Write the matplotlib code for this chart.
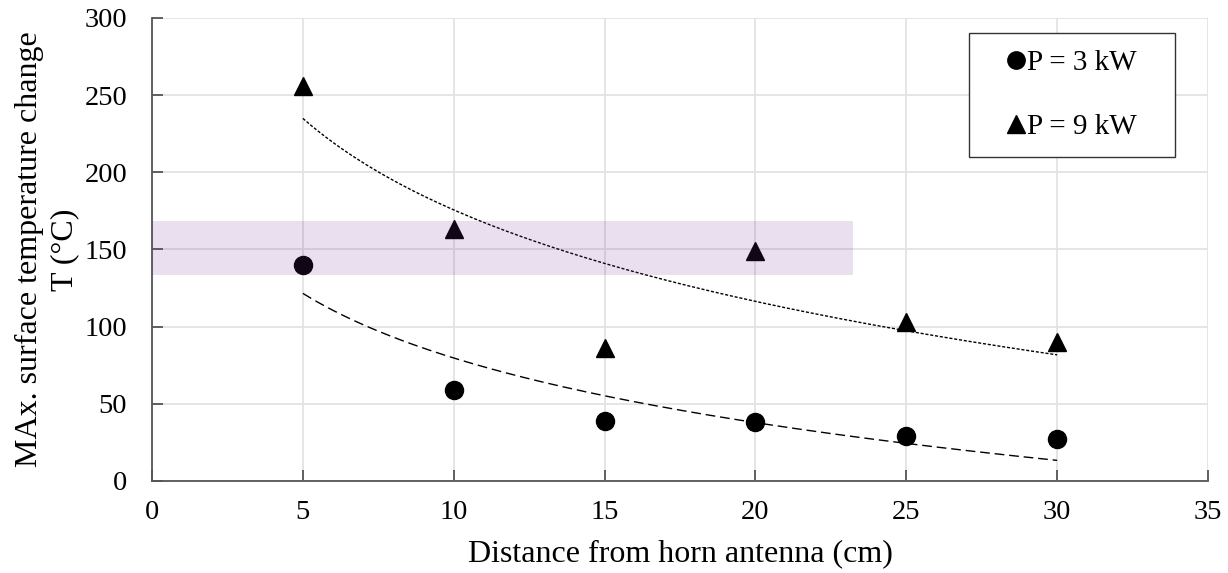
import numpy as np
import matplotlib
matplotlib.use("Agg")
import matplotlib.pyplot as plt
from matplotlib.lines import Line2D
from matplotlib.patches import Rectangle

plt.rcParams['font.family'] = ['Liberation Serif', 'DejaVu Serif']

# Measured maximum surface temperature change vs. distance
distance = [5, 10, 15, 20, 25, 30]
temp_3kw = [140, 59, 39, 38, 29, 27]
temp_9kw = [256, 163, 86, 149, 103, 90]

# Highlighted temperature range
band_x = [0, 23.24]
band_y = [133.7, 168.5]

fig = plt.figure(figsize=(12.28, 5.73), dpi=100)
ax = fig.add_axes([0.1238, 0.1606, 0.8599, 0.808])

ax.set_xlim(0, 35)
ax.set_ylim(0, 300)
ax.set_xticks(np.arange(0, 36, 5))
ax.set_yticks(np.arange(0, 301, 50))
ax.grid(True, color='#e3e3e3', linewidth=1.3)
ax.set_axisbelow(True)

for s in ['top', 'right']:
    ax.spines[s].set_visible(False)
for s in ['left', 'bottom']:
    ax.spines[s].set_color('#555555')
    ax.spines[s].set_linewidth(1.3)
ax.tick_params(direction='in', length=8, width=1.3, color='#555555',
               labelsize=20.5)
ax.tick_params(axis='x', pad=14)
ax.tick_params(axis='y', pad=18)

# Logarithmic trend lines fitted to each series
x = np.array(distance, dtype=float)
xf = np.linspace(5, 30, 200)
for vals, ls in [(temp_3kw, (0, (7, 3.5))), (temp_9kw, (0, (2.2, 1.3)))]:
    a, b = np.polyfit(np.log(x), np.array(vals, dtype=float), 1)
    ax.plot(xf, a * np.log(xf) + b, color='black', linewidth=1.0, linestyle=ls)

ax.plot(distance, temp_3kw, 'o', color='black', markersize=13, zorder=3)
ax.plot(distance, temp_9kw, '^', color='black', markersize=13.5, zorder=3)

ax.fill_between(band_x, band_y[0], band_y[1], color='#6c2a94', alpha=0.15,
                linewidth=0, zorder=4)

ax.set_xlabel('Distance from horn antenna (cm)', fontsize=23, labelpad=10)
ax.set_ylabel('MAx. surface temperature change\nT (°C)', fontsize=23,
              labelpad=4, linespacing=1.25)

# Legend frame drawn separately for wide side padding
ax.add_patch(Rectangle((0.7737, 0.6998), 0.1951, 0.2678, transform=ax.transAxes,
                       facecolor='white', edgecolor='#333333', linewidth=1.0,
                       zorder=4.5, clip_on=False))
handles = [
    Line2D([], [], marker='o', color='black', linestyle='none', markersize=12.5),
    Line2D([], [], marker='^', color='black', linestyle='none', markersize=12.5),
]
leg = ax.legend(handles, ['P = 3 kW', 'P = 9 kW'], loc='center',
                bbox_to_anchor=(0.8712, 0.8337), fontsize=21, frameon=False,
                handlelength=0.6, handletextpad=0.1, labelspacing=1.3,
                borderpad=0, borderaxespad=0)
leg.set_zorder(6)

fig.savefig('out.png', dpi=100)
